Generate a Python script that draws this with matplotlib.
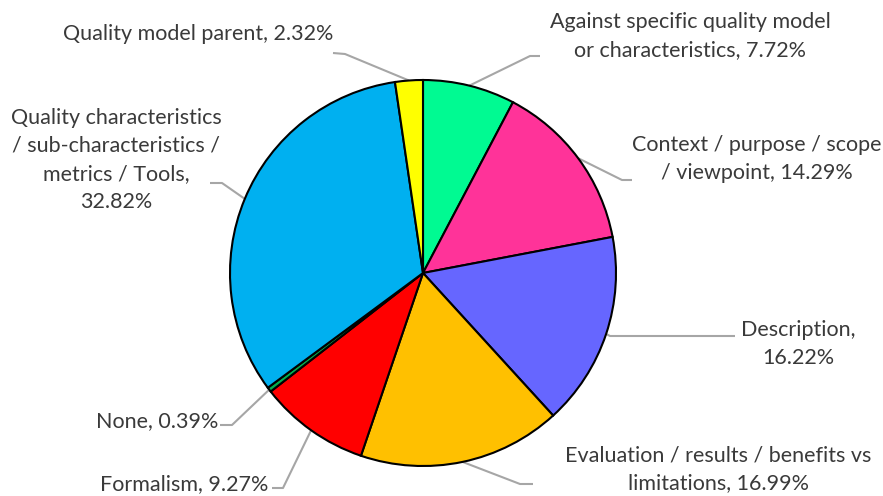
import numpy as np
import matplotlib.pyplot as plt

# data
labels = ['Against specific quality model\nor characteristics, 7.72%',
          'Context / purpose / scope\n/ viewpoint, 14.29%',
          'Description,\n16.22%',
          'Evaluation / results / benefits vs\nlimitations, 16.99%',
          'Formalism, 9.27%',
          'None, 0.39%',
          'Quality characteristics\n/ sub-characteristics /\nmetrics / Tools,\n32.82%',
          'Quality model parent, 2.32%']
values = [7.72, 14.29, 16.22, 16.99, 9.27, 0.39, 32.82, 2.32]
colors = ['#00FA92', '#FF3399', '#6666FF', '#FFC000', '#FF0000', '#00B050', '#00B0F0', '#FFFF00']

W, H = 883, 496
# label centres and leader line end points (pixels from top-left)
text_pos = [(690, 36), (757, 159), (798, 344), (718, 469), (184, 484), (157, 421), (116, 160), (198, 34)]
elbow_pos = [(530, 56), (622, 180), (610, 336), (520, 484), (283, 488), (232, 425), (222, 183), (345, 54)]
line_end = [(540, 56), (632, 180), (735, 336), (533, 484), (272, 488), (220, 425), (210, 183), (333, 53)]

cx, cy, r = 423, H - 273, 193

fig = plt.figure(figsize=(W / 100, H / 100), dpi=100)
ax = fig.add_axes([0, 0, 1, 1])
wedges, _ = ax.pie(values, colors=colors, startangle=90, counterclock=False,
                   center=(cx, cy), radius=r,
                   wedgeprops=dict(edgecolor='black', linewidth=1.5))

for w, lab, tp, ep, le in zip(wedges, labels, text_pos, elbow_pos, line_end):
    mid = np.deg2rad((w.theta1 + w.theta2) / 2)
    ax_ = cx + r * np.cos(mid)
    ay_ = cy + r * np.sin(mid)
    ax.plot([ax_, ep[0], le[0]], [ay_, H - ep[1], H - le[1]], color='#A6A6A6',
            linewidth=1.5, zorder=0, solid_capstyle='butt')
    ax.text(tp[0], H - tp[1], lab, ha='center', va='center', fontsize=15.5,
            family='Lato', color='#3A3A3A', linespacing=1.5)

ax.set_xlim(0, W)
ax.set_ylim(0, H)
ax.set_aspect('equal')
ax.axis('off')

plt.savefig('out.png', dpi=100)
